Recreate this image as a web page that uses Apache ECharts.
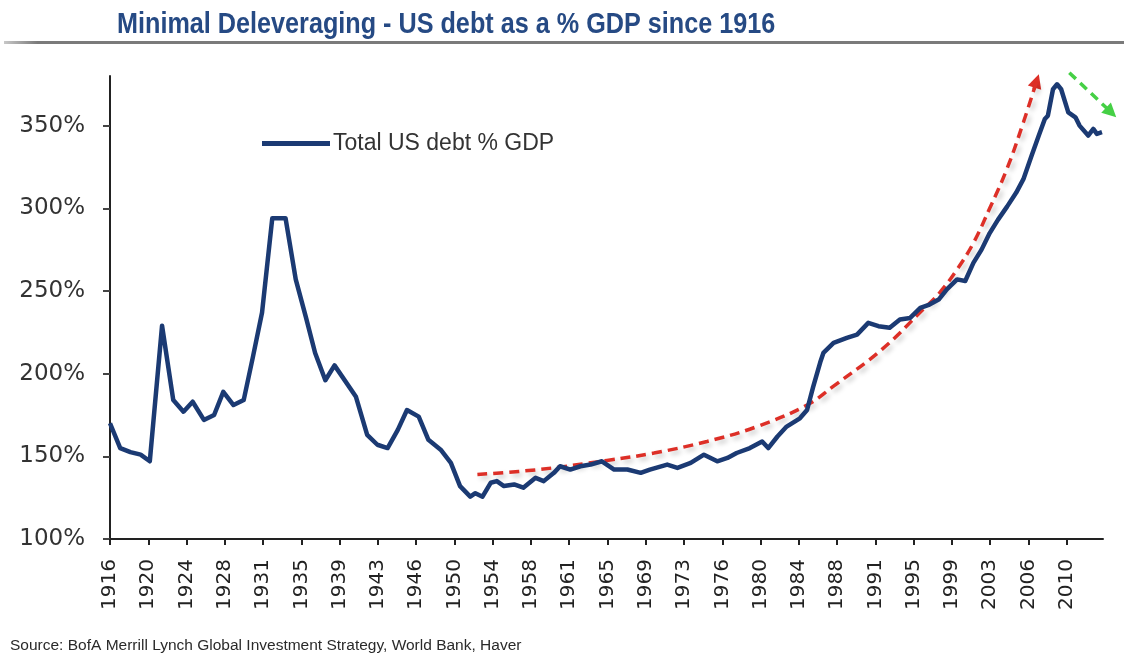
<!DOCTYPE html>
<html>
<head>
<meta charset="utf-8">
<script src="https://cdn.jsdelivr.net/npm/echarts@6/dist/echarts.min.js"></script>
<style>
  html, body { margin: 0; padding: 0; background: #ffffff; }
  #chart { width: 1124px; height: 669px; }
</style>
</head>
<body>
<div id="chart"></div>
<script>
// Axis tick labels (one every 3.75 years, starting 1916)
const tickLabels = ['1916', '1920', '1924', '1928', '1931', '1935', '1939', '1943', '1946',
  '1950', '1954', '1958', '1961', '1965', '1969', '1973', '1976', '1980', '1984', '1988',
  '1991', '1995', '1999', '2003', '2006', '2010'];
const tickStartYear = 1916;
const tickStepYears = 3.75;
const yTicks = [100, 150, 200, 250, 300, 350];

// Total US debt as % of GDP
const debtYears = [
  1916.0, 1917.0, 1918.0, 1919.0, 1919.9, 1921.1, 1922.2, 1923.2, 1924.1, 1925.2,
  1926.2, 1927.1, 1928.1, 1929.1, 1930.0, 1930.9, 1931.9, 1933.2, 1934.2, 1935.2,
  1936.1, 1937.1, 1938.0, 1940.1, 1941.2, 1942.2, 1943.2, 1944.2, 1945.1, 1946.25,
  1947.2, 1948.4, 1949.4, 1950.3, 1951.3, 1951.8, 1952.5, 1953.3, 1953.9, 1954.6,
  1955.6, 1956.5, 1957.7, 1958.5, 1959.5, 1960.1, 1961.1, 1962.1, 1963.1, 1964.2,
  1965.4, 1966.7, 1968.0, 1968.9, 1970.6, 1971.6, 1972.9, 1974.2, 1975.5, 1976.5,
  1977.4, 1978.7, 1979.9, 1980.5, 1981.4, 1982.3, 1983.6, 1984.3, 1984.9, 1985.6,
  1985.9, 1986.9, 1988.2, 1989.2, 1990.3, 1991.3, 1992.4, 1993.4, 1994.4, 1995.4,
  1996.3, 1997.2, 1998.0, 1999.0, 1999.8, 2000.6, 2001.4, 2002.2, 2003.0, 2003.9,
  2004.8, 2005.5, 2006.3, 2007.0, 2007.6, 2007.9, 2008.4, 2008.8, 2009.2, 2009.9,
  2010.6, 2011.0, 2011.85, 2012.35, 2012.7, 2013.2
];
const debtPct = [
  170, 155, 152.5, 151, 147, 229, 184, 177, 183, 172,
  175, 189, 181, 184, 210, 237, 294, 294, 257, 234,
  212.5, 196, 205, 186, 163, 157, 155, 166, 178, 174,
  160, 154, 146, 132, 125.6, 127.7, 125.6, 134, 135, 132,
  133, 131, 137, 135, 140, 144, 142, 144, 145, 147,
  142, 142, 140, 142, 145, 143, 146, 151, 147, 149,
  152, 155, 159, 155, 162, 168, 173, 178, 192, 207,
  212.5, 218.6, 221.6, 223.6, 230.7, 228.7, 227.7, 232.7, 233.7, 239.8,
  241.8, 244.8, 251, 257, 256, 267, 275, 285, 293, 301,
  309.5, 317.6, 331.7, 343.8, 354, 356, 372, 375, 372, 358,
  355, 350, 344, 348, 345, 346
];

// Hand-drawn red trend curve (leveraging) ending in an arrow
const trendYears = [1952.0, 1958.0, 1964.7, 1969.3, 1974.5, 1979.4, 1984.3, 1986.8,
  1991.7, 1995.7, 1997.3, 1999.0, 2000.6, 2002.2, 2003.9, 2005.5, 2006.8];
const trendPct = [139, 142, 147.5, 152, 159, 168, 181, 192,
  215, 239, 249, 263, 279, 300, 324, 352, 377];

// Green arrow (deleveraging)
const greenArrowYears = [2010.0, 2014.1];
const greenArrowPct = [382, 358];

const navy = '#1b3a73';
const red = '#dd2f27';
const green = '#45d045';
const axisFont = 'DejaVu Sans';

const chart = echarts.init(document.getElementById('chart'), null, { renderer: 'canvas' });

const tickValues = tickLabels.map((_, i) => tickStartYear + i * tickStepYears);
const debtData = debtYears.map((y, i) => [y, debtPct[i]]);
const trendData = trendYears.map((y, i) => [y, trendPct[i]]);
const n = trendData.length;

chart.setOption({
  animation: false,
  backgroundColor: '#ffffff',
  graphic: [
    {
      // condensed heading
      type: 'text',
      left: 117,
      top: 10,
      scaleX: 0.84,
      style: {
        text: 'Minimal Deleveraging - US debt as a % GDP since 1916',
        font: "bold 30px 'Liberation Sans', Arial, sans-serif",
        fill: '#264a84'
      }
    },
    {
      type: 'rect',
      left: 4,
      top: 41,
      shape: { width: 1120, height: 3 },
      style: {
        fill: new echarts.graphic.LinearGradient(0, 0, 1, 0, [
          { offset: 0, color: '#c8c8c8' },
          { offset: 0.03, color: '#7a7a7a' },
          { offset: 1, color: '#7a7a7a' }
        ])
      }
    },
    {
      type: 'text',
      left: 10,
      top: 638,
      style: {
        text: 'Source: BofA Merrill Lynch Global Investment Strategy, World Bank, Haver',
        font: "15.5px 'Liberation Sans', Arial, sans-serif",
        fill: '#2a2a2a'
      }
    }
  ],
  legend: {
    data: ['Total US debt % GDP'],
    left: 262,
    top: 132,
    padding: 0,
    icon: 'rect',
    itemWidth: 68,
    itemHeight: 5,
    textStyle: {
      fontFamily: "'Liberation Sans', Arial, sans-serif",
      fontSize: 23,
      color: '#333333',
      padding: [0, 0, 0, -2]
    }
  },
  grid: { left: 110, right: 21, top: 76, bottom: 130, containLabel: false },
  xAxis: {
    type: 'value',
    min: 1916,
    max: 2013.3,
    axisLine: { show: true, lineStyle: { color: '#222', width: 2 } },
    axisTick: {
      show: true, inside: false, length: 6,
      customValues: tickValues,
      lineStyle: { color: '#222', width: 2 }
    },
    splitLine: { show: false },
    axisLabel: {
      customValues: tickValues,
      rotate: 90,
      margin: 20,
      fontFamily: axisFont,
      fontSize: 20,
      color: '#222',
      formatter: function (v) {
        const i = Math.round((v - tickStartYear) / tickStepYears);
        return tickLabels[i] || '';
      }
    }
  },
  yAxis: {
    type: 'value',
    min: 100,
    max: 380,
    axisLine: { show: true, lineStyle: { color: '#222', width: 2 } },
    axisTick: {
      show: true, inside: false, length: 7,
      customValues: yTicks,
      lineStyle: { color: '#444', width: 2 }
    },
    splitLine: { show: false },
    axisLabel: {
      customValues: yTicks,
      margin: 25,
      fontFamily: axisFont,
      fontSize: 23,
      color: '#333',
      formatter: '{value}%'
    }
  },
  series: [
    {
      name: 'trend',
      type: 'line',
      data: trendData,
      smooth: 0.4,
      showSymbol: false,
      silent: true,
      z: 1,
      lineStyle: {
        color: red, width: 3.5, type: [10, 6],
        shadowColor: 'rgba(0,0,0,0.22)', shadowBlur: 5, shadowOffsetX: 3, shadowOffsetY: 3
      }
    },
    {
      name: 'trend arrow',
      type: 'lines',
      coordinateSystem: 'cartesian2d',
      clip: false,
      silent: true,
      z: 1,
      symbol: ['none', 'triangle'],
      symbolSize: 14,
      lineStyle: { color: red, width: 3.5, opacity: 1 },
      data: [{ coords: [trendData[n - 2].map((v, k) => v + (trendData[n - 1][k] - v) * 0.8), trendData[n - 1]] }]
    },
    {
      name: 'deleveraging arrow',
      type: 'lines',
      coordinateSystem: 'cartesian2d',
      clip: false,
      silent: true,
      z: 1,
      symbol: ['none', 'triangle'],
      symbolSize: 14,
      lineStyle: { color: green, width: 3.5, type: [9, 6], opacity: 1 },
      data: [{ coords: greenArrowYears.map((y, i) => [y, greenArrowPct[i]]) }]
    },
    {
      name: 'Total US debt % GDP',
      type: 'line',
      data: debtData,
      showSymbol: false,
      z: 3,
      itemStyle: { color: navy },
      lineStyle: { color: navy, width: 4.5, join: 'round' }
    }
  ]
});
</script>
</body>
</html>
